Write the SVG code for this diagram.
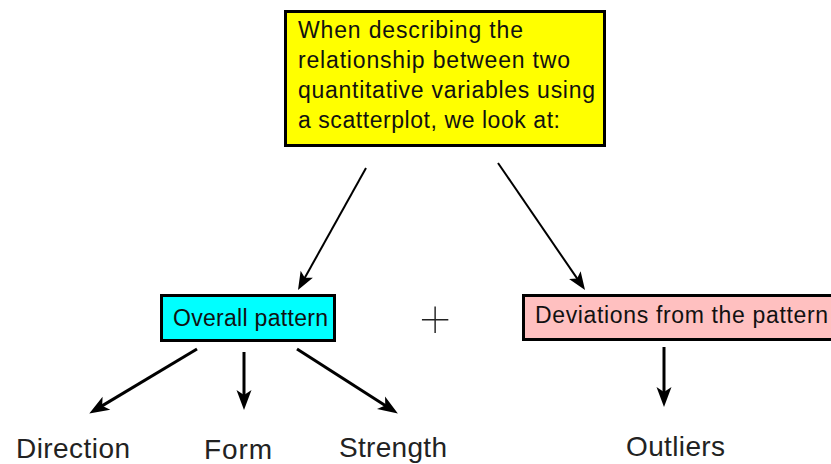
<svg xmlns="http://www.w3.org/2000/svg" width="831" height="464" viewBox="0 0 831 464">
  <style>
    .box { stroke: #000; stroke-width: 3; }
    .t { font-family: "Liberation Sans", Arial, sans-serif; fill: #111; }
    .bt { font-size: 23px; }
    .lbl { font-size: 28px; fill: #222; }
    .plus { font-family: Inter, "Liberation Sans", Arial, sans-serif; font-weight: 100; font-size: 64px; fill: #222; }
    .thin { stroke: #000; stroke-width: 2; fill: none; }
    .thick { stroke: #000; stroke-width: 3; fill: none; }
  </style>
  <defs>
    <marker id="ah" markerUnits="userSpaceOnUse" overflow="visible" orient="auto" refX="0" refY="0" markerWidth="24" markerHeight="24">
      <path d="M9,0 L-11,-7.5 L-6,0 L-11,7.5 Z" fill="#000"/>
    </marker>
    <marker id="ahs" markerUnits="userSpaceOnUse" overflow="visible" orient="auto" refX="0" refY="0" markerWidth="24" markerHeight="24">
      <path d="M8,0 L-10,-7 L-6,0 L-10,7 Z" fill="#000"/>
    </marker>
  </defs>

  <g id="top-node">
    <rect class="box" x="285.5" y="11.5" width="319" height="134" fill="#ffff00"/>
    <text class="t bt" x="298" y="38" textLength="225" lengthAdjust="spacing">When describing the</text>
    <text class="t bt" x="298" y="68" textLength="272" lengthAdjust="spacing">relationship between two</text>
    <text class="t bt" x="298" y="98" textLength="297" lengthAdjust="spacing">quantitative variables using</text>
    <text class="t bt" x="298" y="128" textLength="262" lengthAdjust="spacing">a scatterplot, we look at:</text>
  </g>

  <g id="overall-pattern">
    <rect class="box" x="161.5" y="295.5" width="173" height="45" fill="#00ffff"/>
    <text class="t bt" x="173" y="326" textLength="155" lengthAdjust="spacing">Overall pattern</text>
  </g>

  <g id="plus">
    <text class="plus" x="435" y="338" text-anchor="middle">+</text>
  </g>

  <g id="deviations">
    <rect class="box" x="523.5" y="295.5" width="320" height="44" fill="#ffc0c0"/>
    <text class="t bt" x="535" y="323" textLength="293" lengthAdjust="spacing">Deviations from the pattern</text>
  </g>

  <g id="direction">
    <text class="t lbl" x="16" y="458" textLength="114" lengthAdjust="spacing">Direction</text>
  </g>
  <g id="form">
    <text class="t lbl" x="204" y="459" textLength="68" lengthAdjust="spacing">Form</text>
  </g>
  <g id="strength">
    <text class="t lbl" x="339" y="457" textLength="108" lengthAdjust="spacing">Strength</text>
  </g>
  <g id="outliers">
    <text class="t lbl" x="626" y="456" textLength="99" lengthAdjust="spacing">Outliers</text>
  </g>

  <g id="connectors">
    <line class="thin" x1="366" y1="168" x2="301.9" y2="283" marker-end="url(#ahs)"/>
    <line class="thin" x1="498" y1="163" x2="580.5" y2="283.4" marker-end="url(#ahs)"/>
    <line class="thick" x1="197" y1="349" x2="97" y2="408.9" marker-end="url(#ah)"/>
    <line class="thick" x1="244" y1="352" x2="244" y2="401" marker-end="url(#ah)"/>
    <line class="thick" x1="297" y1="349" x2="390.3" y2="408.7" marker-end="url(#ah)"/>
    <line class="thick" x1="664" y1="347" x2="664" y2="398" marker-end="url(#ah)"/>
  </g>
</svg>
